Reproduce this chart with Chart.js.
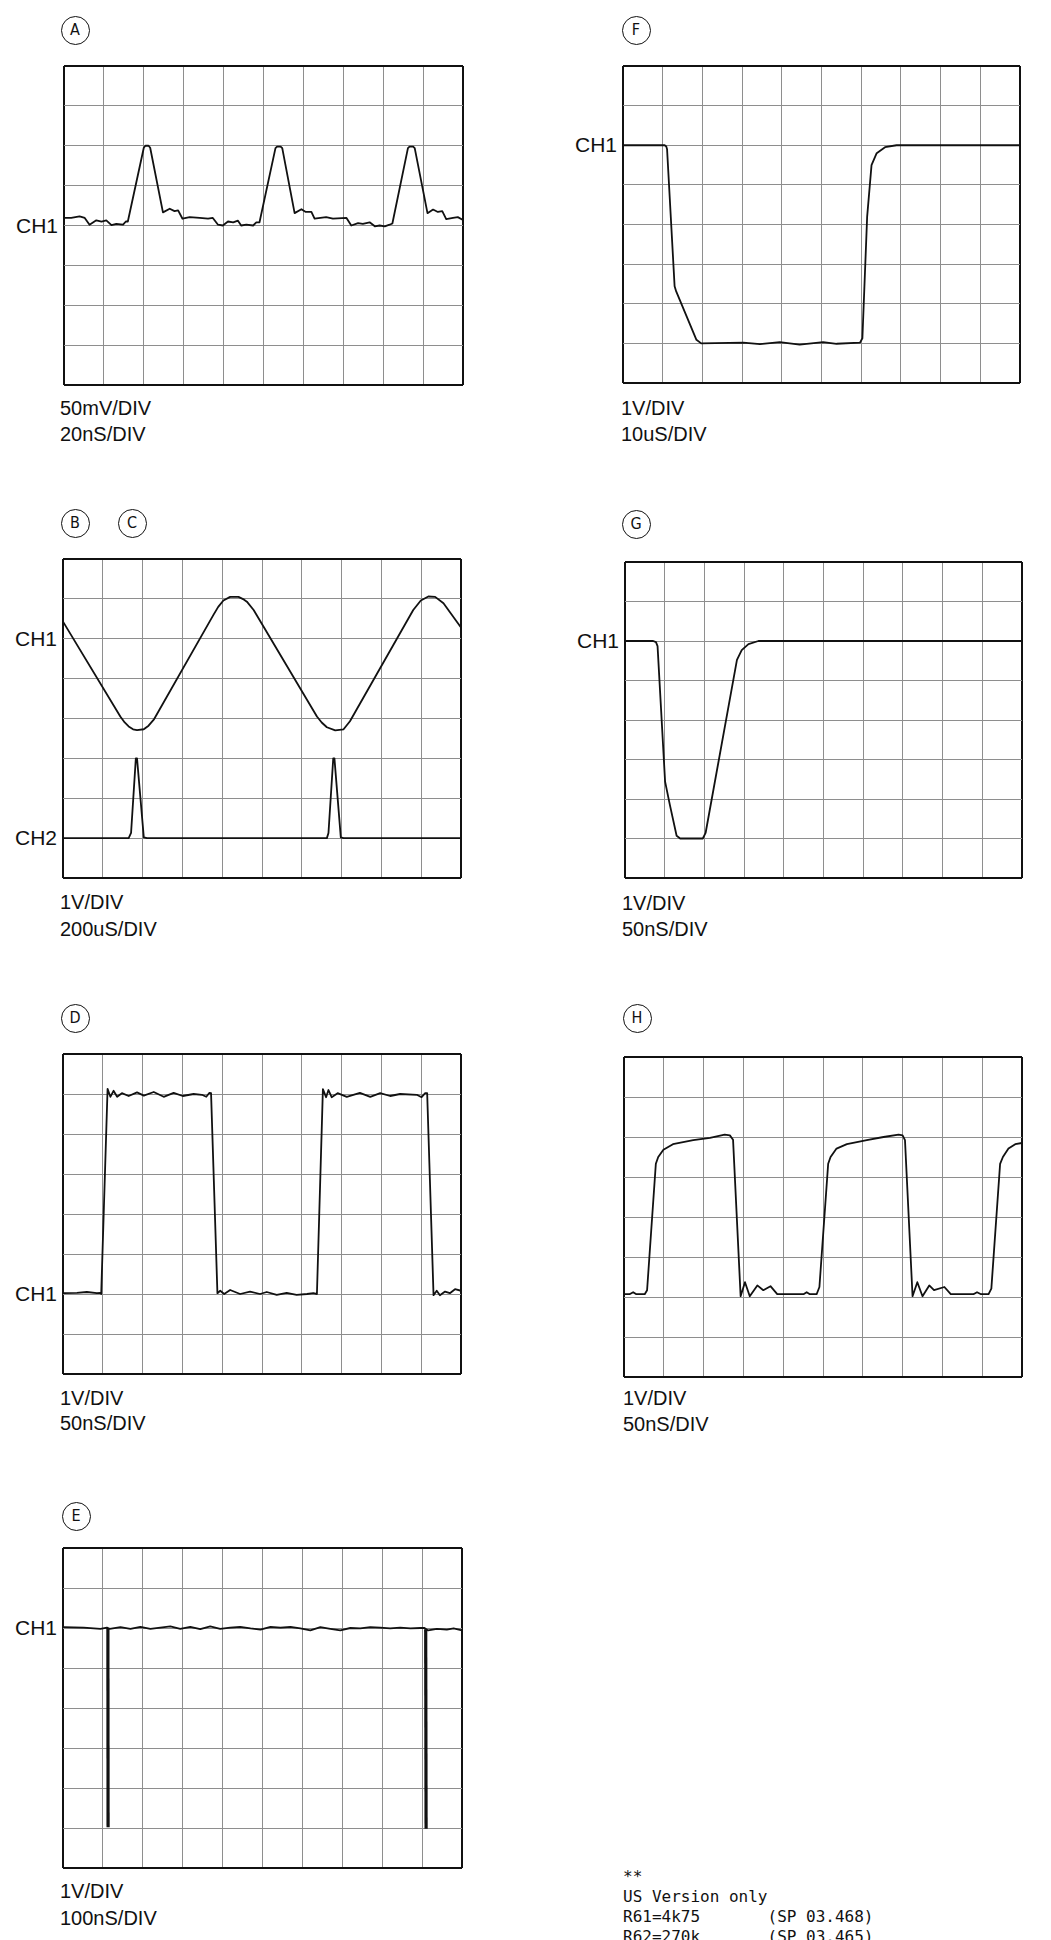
<!DOCTYPE html>
<html><head><meta charset="utf-8">
<script src="https://cdn.jsdelivr.net/npm/chart.js@4.4.1/dist/chart.umd.min.js"></script>
<style>
html,body{margin:0;padding:0;background:#fff;}
body{position:relative;width:1051px;height:1940px;overflow:hidden;font-family:"Liberation Sans",Arial,sans-serif;color:#111;}
.circ{position:absolute;width:29px;height:29px;border:1.5px solid #111;border-radius:50%;box-sizing:border-box;font-size:16px;line-height:26px;text-align:center;font-family:"DejaVu Sans Condensed","DejaVu Sans",sans-serif;}
.ch{position:absolute;font-size:21px;line-height:24px;text-align:right;width:70px;}
.scale{position:absolute;font-size:20px;line-height:26px;white-space:nowrap;}
.foot{position:absolute;font-family:"DejaVu Sans Mono",monospace;font-size:16px;line-height:20px;white-space:pre;color:#111;}
</style></head><body>
<script>
// ---- data (in screen divisions: x 0..10, y -4..4) ----
const xDivisions = [0,1,2,3,4,5,6,7,8,9,10];
const yDivisions = [-4,-3,-2,-1,0,1,2,3,4];
const voltsPerDiv = {A:'50mV/DIV',F:'1V/DIV',B:'1V/DIV',G:'1V/DIV',D:'1V/DIV',H:'1V/DIV',E:'1V/DIV'};
const timePerDiv  = {A:'20nS/DIV',F:'10uS/DIV',B:'200uS/DIV',G:'50nS/DIV',D:'50nS/DIV',H:'50nS/DIV',E:'100nS/DIV'};
const channelRefs = {A:[['CH1',0]],F:[['CH1',2]],B:[['CH1',2],['CH2',-3]],G:[['CH1',2]],D:[['CH1',-2]],H:[],E:[['CH1',2]]};

const traceA = [[0,0.19],[0.18,0.19],[0.39,0.23],[0.52,0.19],[0.64,0.02],[0.81,0.13],[0.94,0.10],[1.06,0.13],[1.19,0.01],[1.31,0.04],[1.48,0.02],[1.55,0.10],[1.60,0.10],[2.00,1.95],[2.04,2.0],[2.12,2.0],[2.16,1.95],[2.48,0.33],[2.65,0.42],[2.77,0.36],[2.86,0.38],[2.97,0.17],[3.15,0.21],[3.40,0.19],[3.61,0.17],[3.73,0.19],[3.86,0.02],[3.98,0.0],[4.11,0.10],[4.24,0.08],[4.36,0.12],[4.44,0.0],[4.57,0.02],[4.74,0.0],[4.82,0.08],[4.90,0.08],[5.30,1.94],[5.34,1.98],[5.43,1.98],[5.47,1.94],[5.78,0.31],[5.95,0.41],[6.06,0.34],[6.20,0.34],[6.28,0.17],[6.57,0.21],[6.74,0.17],[7.08,0.19],[7.20,0.0],[7.37,0.06],[7.49,0.04],[7.66,0.08],[7.79,-0.02],[7.91,0.0],[8.04,-0.02],[8.16,0.02],[8.23,0.05],[8.62,1.94],[8.66,1.98],[8.75,1.98],[8.79,1.94],[9.11,0.31],[9.25,0.40],[9.37,0.34],[9.48,0.36],[9.58,0.16],[9.75,0.19],[9.87,0.21],[10.0,0.14]];
const traceF = [[0,2],[1.05,2],[1.09,1.97],[1.11,1.9],[1.30,-1.56],[1.34,-1.69],[1.85,-2.91],[1.97,-3.0],[3.03,-2.98],[3.45,-3.02],[3.95,-2.97],[4.45,-3.03],[5.04,-2.97],[5.38,-3.01],[5.97,-2.98],[6.03,-2.87],[6.15,0.2],[6.26,1.5],[6.39,1.8],[6.60,1.95],[6.89,2],[10,2]];
const traceB_ch1 = [[0,2.43],[1.44,0.05],[1.55,-0.1],[1.65,-0.2],[1.76,-0.27],[1.86,-0.29],[2.03,-0.27],[2.15,-0.18],[2.28,-0.03],[3.78,2.60],[3.90,2.8],[4.03,2.96],[4.20,3.05],[4.41,3.05],[4.55,2.98],[4.62,2.93],[4.79,2.72],[6.38,0.05],[6.50,-0.1],[6.63,-0.22],[6.84,-0.30],[7.05,-0.27],[7.21,-0.07],[8.80,2.72],[8.99,2.96],[9.18,3.06],[9.35,3.05],[9.56,2.89],[10,2.28]];
const traceB_ch2 = [[0,-3],[1.65,-3],[1.71,-2.87],[1.83,-1.0],[1.86,-1.0],[2.03,-2.98],[2.11,-3],[6.63,-3],[6.67,-2.87],[6.79,-1.0],[6.82,-1.0],[6.98,-2.98],[7.05,-3],[10,-3]];
const traceG = [[0,2],[0.71,2],[0.78,1.97],[0.82,1.87],[1.01,-1.56],[1.13,-2.15],[1.30,-2.93],[1.39,-3],[1.96,-3],[2.03,-2.86],[2.82,1.52],[2.94,1.77],[3.11,1.92],[3.36,2],[10,2]];
const traceD = [[0.02,-1.98],[0.35,-1.97],[0.60,-1.95],[0.85,-1.98],[0.94,-1.97],[0.96,-2.0],[1.12,3.13],[1.19,2.93],[1.27,3.08],[1.36,2.93],[1.48,3.02],[1.65,2.95],[1.86,3.04],[2.03,2.96],[2.28,3.05],[2.53,2.93],[2.78,3.03],[3.01,2.95],[3.28,3.0],[3.49,2.98],[3.60,2.93],[3.68,3.03],[3.72,3.02],[3.88,-1.98],[3.95,-1.92],[4.05,-2.0],[4.20,-1.9],[4.45,-2.0],[4.70,-1.94],[4.95,-2.0],[5.12,-1.95],[5.37,-2.02],[5.62,-1.97],[5.87,-2.02],[6.13,-2.0],[6.29,-1.98],[6.38,-2.0],[6.53,3.12],[6.61,2.92],[6.67,3.1],[6.75,2.92],[6.90,3.02],[7.13,2.93],[7.46,3.03],[7.72,2.93],[7.97,3.02],[8.22,2.95],[8.47,3.0],[8.89,2.98],[9.01,2.92],[9.10,3.02],[9.15,3.02],[9.31,-2.03],[9.39,-1.92],[9.47,-2.03],[9.60,-1.94],[9.72,-1.98],[9.85,-1.88],[10,-1.92]];
const traceH = [[0.02,-1.93],[0.14,-1.93],[0.23,-1.88],[0.31,-1.93],[0.52,-1.93],[0.58,-1.83],[0.80,1.33],[0.86,1.5],[0.99,1.68],[1.23,1.82],[1.74,1.92],[2.16,1.98],[2.53,2.06],[2.66,2.04],[2.74,1.93],[2.93,-1.98],[3.04,-1.63],[3.16,-1.98],[3.35,-1.71],[3.50,-1.83],[3.68,-1.73],[3.85,-1.93],[4.25,-1.93],[4.51,-1.93],[4.59,-1.88],[4.67,-1.93],[4.84,-1.93],[4.91,-1.75],[5.13,1.33],[5.19,1.5],[5.34,1.71],[5.60,1.82],[6.10,1.92],[6.52,2.0],[6.90,2.06],[7.0,2.04],[7.06,1.92],[7.25,-1.98],[7.37,-1.63],[7.50,-1.98],[7.67,-1.71],[7.79,-1.83],[8.05,-1.75],[8.21,-1.93],[8.78,-1.93],[8.87,-1.88],[8.97,-1.93],[9.16,-1.93],[9.23,-1.79],[9.45,1.33],[9.52,1.5],[9.66,1.71],[9.83,1.82],[10,1.85]];
const traceE = [[0.02,2.02],[0.52,2.01],[0.94,1.98],[1.10,2.01],[1.17,1.98],[1.44,2.02],[1.69,1.98],[1.94,2.03],[2.19,1.98],[2.44,2.01],[2.69,2.04],[2.94,1.98],[3.19,2.03],[3.44,1.97],[3.69,2.04],[3.94,1.98],[4.19,2.01],[4.44,2.03],[4.70,1.99],[4.95,1.96],[5.20,2.03],[5.45,2.01],[5.70,2.03],[5.95,1.99],[6.20,1.94],[6.45,2.02],[6.70,1.98],[6.95,1.94],[7.20,2.0],[7.45,1.99],[7.70,2.02],[7.95,2.01],[8.20,1.99],[8.45,2.01],[8.71,1.99],[8.96,2.0],[9.06,2.0],[9.15,1.94],[9.37,1.98],[9.62,1.96],[9.79,1.99],[10,1.94]];
const spikeE1 = [[1.125,2.0],[1.13,-2.98]];
const spikeE2 = [[9.09,1.97],[9.10,-3.02]];

const footerLines = ['**','US Version only','R61=4k75       (SP 03.468)','R62=270k       (SP 03.465)'];

// ---- layout ----
const PAD = 6;
const panels = [
  {key:'A', box:[64,66,463,385], circles:[['A',75,30]], textX:60, textY:[408,434], traces:[traceA], thick:[]},
  {key:'F', box:[623,66,1020,383], circles:[['F',636,30]], textX:621, textY:[408,434], traces:[traceF], thick:[]},
  {key:'B', box:[63,559,461,878], circles:[['B',75,523],['C',132,523]], textX:60, textY:[902,929], traces:[traceB_ch1,traceB_ch2], thick:[]},
  {key:'G', box:[625,562,1022,878], circles:[['G',636,524]], textX:622, textY:[903,929], traces:[traceG], thick:[]},
  {key:'D', box:[63,1054,461,1374], circles:[['D',75,1018]], textX:60, textY:[1398,1423], traces:[traceD], thick:[]},
  {key:'H', box:[624,1057,1022,1377], circles:[['H',637,1018]], textX:623, textY:[1398,1424], traces:[traceH], thick:[]},
  {key:'E', box:[63,1548,462,1868], circles:[['E',76,1516]], textX:60, textY:[1891,1918], traces:[traceE], thick:[spikeE1,spikeE2]}
];

function el(cls, text, css){
  const d = document.createElement('div');
  d.className = cls; d.textContent = text; d.style.cssText += css;
  document.body.appendChild(d); return d;
}
function edgeColor(lo, hi){ return ctx => (ctx.tick && (ctx.tick.value===lo || ctx.tick.value===hi)) ? '#111' : '#8e8e8e'; }
function edgeWidth(lo, hi){ return ctx => (ctx.tick && (ctx.tick.value===lo || ctx.tick.value===hi)) ? 2 : 1; }
function ds(tr, width){
  return {data: tr.map(([x,y]) => ({x, y})), borderColor:'#111', borderWidth:width, pointRadius:0, tension:0, fill:false,
          borderJoinStyle:'round', borderCapStyle:'butt'};
}

panels.forEach(p => {
  const [l,t,r,b] = p.box;
  const w = r-l, h = b-t;
  const cv = document.createElement('canvas');
  cv.width = w+2*PAD; cv.height = h+2*PAD;
  cv.style.cssText = `position:absolute;left:${l-PAD}px;top:${t-PAD}px;width:${w+2*PAD}px;height:${h+2*PAD}px;`;
  document.body.appendChild(cv);
  const xMin = xDivisions[0], xMax = xDivisions[xDivisions.length-1];
  const yMin = yDivisions[0], yMax = yDivisions[yDivisions.length-1];
  const chart = new Chart(cv, {
    type:'line',
    data:{datasets: p.traces.map(tr => ds(tr, 1.8)).concat(p.thick.map(tr => ds(tr, 3.2)))},
    options:{
      responsive:false, animation:false, events:[],
      layout:{padding:PAD},
      plugins:{legend:{display:false}, tooltip:{enabled:false}},
      scales:{
        x:{type:'linear', min:xMin, max:xMax, ticks:{display:false, stepSize:1},
           grid:{drawTicks:false, color:edgeColor(xMin,xMax), lineWidth:edgeWidth(xMin,xMax)}, border:{display:false}},
        y:{type:'linear', min:yMin, max:yMax, ticks:{display:false, stepSize:1},
           grid:{drawTicks:false, color:edgeColor(yMin,yMax), lineWidth:edgeWidth(yMin,yMax)}, border:{display:false}}
      }
    }
  });
  (channelRefs[p.key]||[]).forEach(([name, v]) => {
    const py = chart.scales.y.getPixelForValue(v) + t - PAD;
    el('ch', name, `left:${l-6-70}px;top:${py-12}px;`);
  });
  p.circles.forEach(([letter, cx, cy]) => el('circ', letter, `left:${cx-14.5}px;top:${cy-14.5}px;`));
  el('scale', voltsPerDiv[p.key], `left:${p.textX}px;top:${p.textY[0]-13}px;`);
  el('scale', timePerDiv[p.key], `left:${p.textX}px;top:${p.textY[1]-13}px;`);
});

el('foot', footerLines.join('\n'), 'left:623px;top:1867px;');
</script>
</body></html>
